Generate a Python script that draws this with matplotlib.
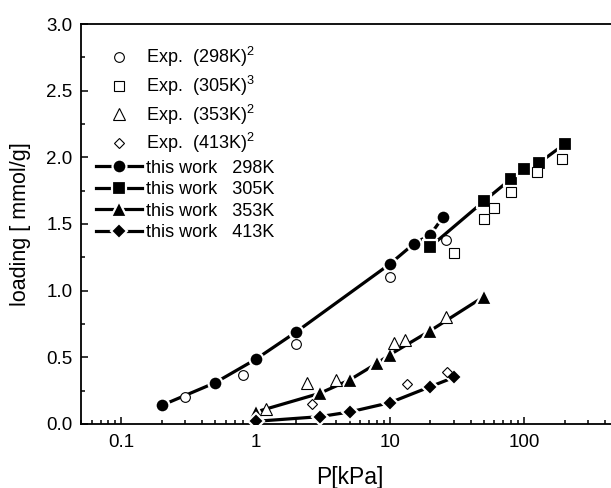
import numpy as np
import matplotlib
matplotlib.use("Agg")
import matplotlib.pyplot as plt
from matplotlib.ticker import FixedLocator, LogLocator, FuncFormatter, MultipleLocator

plt.rcParams['font.family'] = ['Liberation Sans', 'DejaVu Sans']
plt.rcParams['mathtext.fontset'] = 'custom'
plt.rcParams['mathtext.rm'] = 'Liberation Sans'
plt.rcParams['mathtext.it'] = 'Liberation Sans'

# experimental data (open symbols)
exp298_p = [0.3, 0.8, 2.0, 10.0, 26.0]
exp298_q = [0.20, 0.37, 0.60, 1.10, 1.38]
exp305_p = [30.0, 50.0, 60.0, 80.0, 125.0, 192.0]
exp305_q = [1.28, 1.54, 1.62, 1.74, 1.89, 1.985]
exp353_p = [1.2, 2.4, 4.0, 10.7, 13.0, 26.0]
exp353_q = [0.11, 0.31, 0.33, 0.61, 0.63, 0.80]
exp413_p = [2.65, 13.3, 26.8]
exp413_q = [0.15, 0.30, 0.39]

# simulation (filled symbols)
sim298_p = [0.2, 0.5, 1.0, 2.0, 10.0, 15.0, 20.0, 25.0]
sim298_q = [0.14, 0.31, 0.485, 0.69, 1.20, 1.35, 1.42, 1.555]
sim305_p = [20.0, 50.0, 80.0, 100.0, 130.0, 200.0]
sim305_q = [1.33, 1.67, 1.84, 1.91, 1.96, 2.10]
sim353_p = [1.0, 3.0, 5.0, 8.0, 10.0, 20.0, 50.0]
sim353_q = [0.09, 0.23, 0.33, 0.455, 0.52, 0.70, 0.955]
sim413_p = [1.0, 3.0, 5.0, 10.0, 20.0, 30.0]
sim413_q = [0.02, 0.055, 0.09, 0.16, 0.28, 0.35]

fig = plt.figure(figsize=(6.11, 4.88), dpi=100)
ax = fig.add_axes([81 / 611, 64 / 488, 537 / 611, 400 / 488])

open_style = dict(ls='none', mfc='white', mec='black', mew=0.8, zorder=4)
ax.plot(exp298_p, exp298_q, marker='o', ms=7, label='Exp.  (298K)$^{2}$', **open_style)
ax.plot(exp305_p, exp305_q, marker='s', ms=6.5, label='Exp.  (305K)$^{3}$', **open_style)
ax.plot(exp353_p, exp353_q, marker='^', ms=8, label='Exp.  (353K)$^{2}$', **open_style)
ax.plot(exp413_p, exp413_q, marker='D', ms=5.5, label='Exp.  (413K)$^{2}$', **open_style)

sim_style = dict(color='black', lw=2.3, mfc='black', mec='white', mew=1.6, zorder=3)
ax.plot(sim298_p, sim298_q, marker='o', ms=10, label='this work   298K', **sim_style)
ax.plot(sim305_p, sim305_q, marker='s', ms=9.5, label='this work   305K', **sim_style)
ax.plot(sim353_p, sim353_q, marker='^', ms=11, label='this work   353K', **sim_style)
ax.plot(sim413_p, sim413_q, marker='D', ms=8.5, label='this work   413K', **sim_style)

ax.set_xscale('log')
ax.set_xlim(0.05, 500)
ax.set_ylim(0, 3.0)
ax.xaxis.set_major_locator(FixedLocator([0.1, 1, 10, 100]))
ax.xaxis.set_minor_locator(LogLocator(base=10, subs=np.arange(2, 10)))
ax.xaxis.set_major_formatter(FuncFormatter(lambda v, p: '%g' % v))
ax.yaxis.set_major_locator(MultipleLocator(0.5))
ax.yaxis.set_minor_locator(MultipleLocator(0.25))
ax.yaxis.set_major_formatter(FuncFormatter(lambda v, p: '%.1f' % v))

ax.tick_params(which='both', direction='in', labelsize=13.5, width=1.1)
ax.tick_params(which='major', length=5)
ax.tick_params(which='minor', length=3)
ax.tick_params(axis='y', pad=6)
ax.tick_params(axis='x', pad=7)
for s in ax.spines.values():
    s.set_linewidth(1.3)

ax.set_xlabel('P[kPa]', fontsize=16.5, labelpad=11)
ax.set_ylabel('loading [ mmol/g]', fontsize=15.5, labelpad=11)

ax.legend(loc='upper left', bbox_to_anchor=(0.015, 0.965), frameon=False, fontsize=13,
          handlelength=2.55, handletextpad=0.22, labelspacing=0.25, borderaxespad=0.0)

fig.savefig('out.png', dpi=100)
